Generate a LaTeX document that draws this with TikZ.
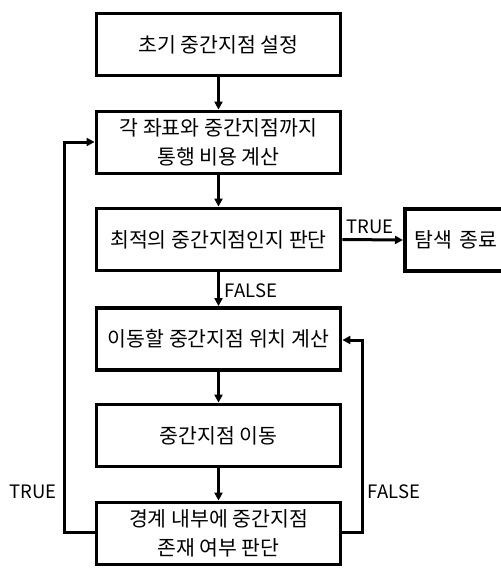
\documentclass[tikz,border=0pt]{standalone}
\usepackage{fontspec}
\setmainfont{Noto Sans CJK KR}
\usetikzlibrary{arrows.meta}
\begin{document}
\begin{tikzpicture}[x=1pt,y=-1pt,
  box/.style={draw, line width=3.8pt, minimum width=244pt, minimum height=62pt, inner sep=0pt, align=center, font=\fontsize{20.5}{28.5}\selectfont},
  lbl/.style={font=\fontsize{18.5}{20}\selectfont, inner sep=0pt},
  arr/.style={line width=3pt, -{Triangle[length=8pt,width=8pt]}}]
\useasboundingbox (0,0) rectangle (501,568);
\fill[white] (0,0) rectangle (501,568);
\node[box] (b1) at (218.5,44.5) {초기 중간지점 설정};
\node[box] (b2) at (218.5,142.5) {각 좌표와 중간지점까지\\통행 비용 계산};
\node[box] (b3) at (218.5,239.5) {최적의 중간지점인지 판단};
\node[box, minimum width=0pt, inner xsep=10pt, text width=100pt, align=left, anchor=west] (end) at (403,240) {탐색 종료};
\node[box] (b4) at (218.5,339) {이동할 중간지점 위치 계산};
\node[box] (b5) at (218.5,435.5) {중간지점 이동};
\node[box] (b6) at (218.5,533.5) {경계 내부에 중간지점\\존재 여부 판단};
\coordinate (L1) at (64,532);
\coordinate (L2) at (64,142);
\coordinate (R1) at (362,532);
\coordinate (R2) at (362,340);
\draw[arr] (b1) -- (b2);
\draw[arr] (b2) -- (b3);
\draw[arr] (b3) -- (b4);
\draw[arr] (b4) -- (b5);
\draw[arr] (b5) -- (b6);
\draw[arr] (b3.east) -- (end.west);
\draw[arr] (b6.west |- L1) -- (L1) -- (L2) -- (b2.west |- L2);
\draw[arr] (b6.east |- R1) -- (R1) -- (R2) -- (b4.east |- R2);
\node[lbl] (t1) at (370,227) {TRUE};
\node[lbl] (f1) at (251,291) {FALSE};
\node[lbl] (t2) at (33,492) {TRUE};
\node[lbl] (f2) at (394,492) {FALSE};
\end{tikzpicture}
\end{document}
